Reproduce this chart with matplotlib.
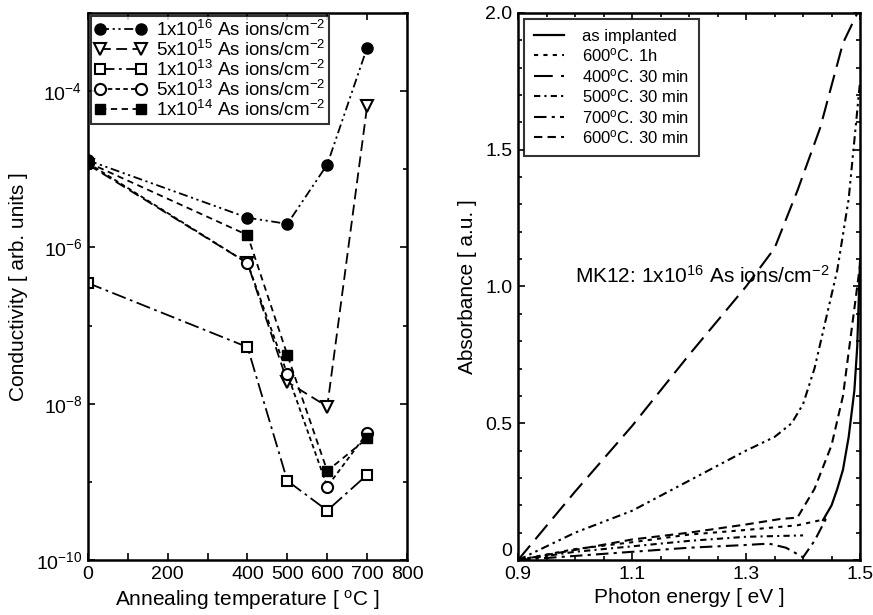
import numpy as np
import matplotlib
matplotlib.use("Agg")
import matplotlib.pyplot as plt
from matplotlib.ticker import FixedLocator, NullFormatter

plt.rcParams['font.family'] = ['Liberation Sans', 'DejaVu Sans']
plt.rcParams['mathtext.fontset'] = 'custom'
plt.rcParams['mathtext.rm'] = 'Liberation Sans'
plt.rcParams['mathtext.it'] = 'Liberation Sans'
plt.rcParams['mathtext.bf'] = 'Liberation Sans:bold'

# --- panel a: conductividad vs temperatura de recocido ---
temp = [0, 400, 500, 600, 700]
cond_1e16 = [1.3e-5, 2.4e-6, 2.0e-6, 1.15e-5, 3.6e-4]
cond_5e15 = [1.15e-5, 6.3e-7, 1.9e-8, 9.2e-9, 6.4e-5]
cond_1e13 = [3.5e-7, 5.3e-8, 1.03e-9, 4.3e-10, 1.23e-9]
cond_5e13 = [1.2e-5, 6.3e-7, 2.4e-8, 8.7e-10, 4.2e-9]
cond_1e14 = [1.22e-5, 1.44e-6, 4.2e-8, 1.38e-9, 3.6e-9]

# --- panel b: absorbancia vs energia ---
e_400 = [0.9, 1.0, 1.1, 1.2, 1.3, 1.35, 1.39, 1.43, 1.47, 1.5]
a_400 = [0.0, 0.25, 0.49, 0.75, 1.0, 1.14, 1.35, 1.58, 1.89, 2.02]
e_500 = [0.9, 1.0, 1.1, 1.2, 1.3, 1.35, 1.38, 1.4, 1.42, 1.44, 1.46, 1.48, 1.5]
a_500 = [0.0, 0.1, 0.18, 0.29, 0.40, 0.45, 0.5, 0.57, 0.70, 0.88, 1.06, 1.32, 1.75]
e_600 = [0.9, 1.0, 1.1, 1.2, 1.3, 1.36, 1.39, 1.42, 1.45, 1.47, 1.485, 1.5]
a_600 = [0.0, 0.037, 0.075, 0.1, 0.13, 0.15, 0.155, 0.26, 0.42, 0.6, 0.84, 1.08]
e_600h = [0.9, 1.0, 1.1, 1.2, 1.3, 1.39, 1.44]
a_600h = [0.0, 0.04, 0.065, 0.093, 0.11, 0.127, 0.15]
e_500b = [0.9, 1.0, 1.1, 1.2, 1.3, 1.4]
a_500b = [0.0, 0.03, 0.05, 0.07, 0.085, 0.09]
e_700 = [0.9, 1.0, 1.1, 1.2, 1.3, 1.34, 1.37, 1.40, 1.42, 1.44]
a_700 = [0.0, 0.015, 0.03, 0.045, 0.055, 0.06, 0.045, 0.01, 0.07, 0.15]
e_asimp = [1.435, 1.45, 1.46, 1.47, 1.48, 1.49, 1.495, 1.5]
a_asimp = [0.146, 0.2, 0.26, 0.33, 0.45, 0.62, 0.78, 1.1]

fig = plt.figure(figsize=(8.73, 6.15), dpi=100)
ax1 = fig.add_axes([0.1008, 0.0894, 0.3654, 0.8895])
ax2 = fig.add_axes([0.5934, 0.0894, 0.3918, 0.8895])

k = 'black'
ax1.plot(temp, cond_1e16, color=k, lw=1.3, ls=(0, (5, 2, 1.2, 2, 1.2, 2)), marker='o', ms=8,
         mfc=k, label=r'1x10$^{16}$ As ions/cm$^{-2}$')
ax1.plot(temp, cond_5e15, color=k, lw=1.3, ls=(0, (6, 3)), marker='v', ms=8,
         mfc='white', mew=1.5, label=r'5x10$^{15}$ As ions/cm$^{-2}$')
ax1.plot(temp, cond_1e13, color=k, lw=1.3, ls=(0, (8, 2.5, 1.5, 2.5)), marker='s', ms=7,
         mfc='white', mew=1.5, label=r'1x10$^{13}$ As ions/cm$^{-2}$')
ax1.plot(temp, cond_5e13, color=k, lw=1.3, ls=(0, (2.5, 1.8)), marker='o', ms=8,
         mfc='white', mew=1.5, label=r'5x10$^{13}$ As ions/cm$^{-2}$')
ax1.plot(temp, cond_1e14, color=k, lw=1.3, ls=(0, (3.5, 2.5)), marker='s', ms=7,
         mfc=k, label=r'1x10$^{14}$ As ions/cm$^{-2}$')

ax1.set_yscale('log')
ax1.set_xlim(0, 800)
ax1.set_ylim(1e-10, 1e-3)
ax1.set_xticks(range(0, 801, 100))
ax1.set_xticklabels(['0', '', '200', '', '400', '500', '600', '700', '800'])
ax1.yaxis.set_major_locator(FixedLocator([1e-10, 1e-8, 1e-6, 1e-4]))
ax1.yaxis.set_minor_locator(FixedLocator([1e-9, 1e-7, 1e-5, 1e-3]))
ax1.yaxis.set_minor_formatter(NullFormatter())
ax1.set_xlabel('Annealing temperature [ $^{o}$C ]', fontsize=15, labelpad=4)
ax1.set_ylabel('Conductivity [ arb. units ]', fontsize=15, labelpad=6)
leg1 = ax1.legend(loc='upper left', fontsize=13.5, numpoints=2, handlelength=2.8,
                  frameon=True, fancybox=False, borderaxespad=0.15, labelspacing=0.0,
                  handletextpad=0.5, borderpad=0.2)
leg1.get_frame().set_edgecolor(k)
leg1.get_frame().set_linewidth(1.5)

ax2.plot(e_asimp, a_asimp, color=k, lw=1.6, ls='-', label='as implanted')
ax2.plot(e_600h, a_600h, color=k, lw=1.5, ls=(0, (2, 2.5)), label='600$^{o}$C. 1h')
ax2.plot(e_400, a_400, color=k, lw=1.5, ls=(0, (9, 4)), label='400$^{o}$C. 30 min')
ax2.plot(e_500b, a_500b, color=k, lw=1.5, ls=(0, (3, 2, 1, 2)), label='500$^{o}$C. 30 min')
ax2.plot(e_700, a_700, color=k, lw=1.5, ls=(0, (6, 2.5, 1.5, 2.5)), label='700$^{o}$C. 30 min')
ax2.plot(e_600, a_600, color=k, lw=1.5, ls=(0, (4, 2.5)), label='600$^{o}$C. 30 min')
ax2.plot(e_500, a_500, color=k, lw=1.5, ls=(0, (4, 2, 1.2, 2, 1.2, 2)))

ax2.set_xlim(0.9, 1.5)
ax2.set_ylim(0, 2.0)
ax2.set_xticks([0.9, 1.1, 1.3, 1.5])
ax2.set_xticklabels(['0.9', '1.1', '1.3', '1.5'])
ax2.set_xticks(np.arange(0.9, 1.51, 0.05), minor=True)
ax2.set_yticks([0, 0.5, 1.0, 1.5, 2.0])
ax2.set_yticklabels(['0', '0.5', '1.0', '1.5', '2.0'])
ax2.set_yticks(np.arange(0, 2.01, 0.1), minor=True)
ax2.get_yticklabels()[0].set_va('bottom')
ax2.set_xlabel('Photon energy [ eV ]', fontsize=15, labelpad=4)
ax2.set_ylabel('Absorbance [ a.u. ]', fontsize=15, labelpad=6)
ax2.text(1.0, 1.04, r'MK12: 1x10$^{16}$ As ions/cm$^{-2}$', fontsize=15, va='center')
leg2 = ax2.legend(loc='upper left', fontsize=12, handlelength=1.8, frameon=True,
                  fancybox=False, borderaxespad=0.35, labelspacing=0.15,
                  handletextpad=1.1, borderpad=0.6)
leg2.get_frame().set_edgecolor(k)
leg2.get_frame().set_linewidth(1.5)

for ax in (ax1, ax2):
    for s in ax.spines.values():
        s.set_linewidth(1.8)
    ax.tick_params(which='both', direction='in', top=True, right=True, labelsize=14, width=1.2)
    ax.tick_params(which='major', length=5, pad=4)
    ax.tick_params(which='minor', length=3)

fig.savefig('out.png', dpi=100)
